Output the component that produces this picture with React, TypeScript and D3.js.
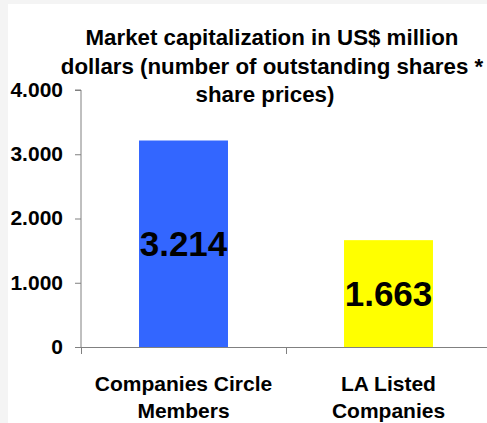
import React, { useEffect, useRef } from "react";
import * as d3 from "d3";

const titleLines = [
  "Market capitalization in US$ million",
  "dollars (number of outstanding shares *",
  "share prices)",
];
const categories = ["Companies Circle Members", "LA Listed Companies"];
const categoryLines = [
  ["Companies Circle", "Members"],
  ["LA Listed", "Companies"],
];
const values = [3214, 1663];
const yTicks = [0, 1000, 2000, 3000, 4000];

const barColors = ["#3366ff", "#ffff00"];
const width = 487;
const height = 423;
const margin = { top: 90, right: -4, bottom: 76, left: 81 };
const font = "'Liberation Sans', Arial, Helvetica, sans-serif";

const locale = d3.formatLocale({
  decimal: ",",
  thousands: ".",
  grouping: [3],
  currency: ["", ""],
});
const fmt = locale.format(",");

export default function App() {
  const svgRef = useRef<SVGSVGElement>(null);

  useEffect(() => {
    const svg = d3.select(svgRef.current);
    svg.selectAll("*").remove();

    // page background + chart area
    svg.append("rect").attr("width", width).attr("height", height).attr("fill", "#f4f4f4");
    svg
      .append("rect")
      .attr("x", 8)
      .attr("y", 4)
      .attr("width", width - 8)
      .attr("height", height - 4)
      .attr("fill", "#ffffff");

    const plotBottom = height - margin.bottom;
    const plotRight = width - margin.right;

    const x = d3
      .scaleBand()
      .domain(categories)
      .range([margin.left, plotRight])
      .paddingInner(0.566)
      .paddingOuter(0.283);

    const y = d3.scaleLinear().domain([0, 4000]).range([plotBottom, margin.top]);

    // bars
    svg
      .append("g")
      .selectAll("rect")
      .data(values)
      .join("rect")
      .attr("x", (d, i) => x(categories[i])!)
      .attr("y", (d) => y(d))
      .attr("width", x.bandwidth())
      .attr("height", (d) => plotBottom - y(d))
      .attr("fill", (d, i) => barColors[i]);

    // value labels
    svg
      .append("g")
      .selectAll("text")
      .data(values)
      .join("text")
      .attr("x", (d, i) => x(categories[i])! + x.bandwidth() / 2)
      .attr("y", (d) => (y(d) + plotBottom) / 2)
      .attr("dy", "0.36em")
      .attr("text-anchor", "middle")
      .attr("font-family", font)
      .attr("font-weight", "bold")
      .attr("font-size", 35)
      .attr("fill", "#000")
      .text((d) => fmt(d));

    // Y axis
    const yAxis = svg
      .append("g")
      .attr("transform", `translate(${margin.left},0)`)
      .call(d3.axisLeft(y).tickValues(yTicks).tickFormat((d) => fmt(d as number)).tickSize(6).tickPadding(12));
    yAxis.select(".domain").attr("stroke", "#808080").attr("d", `M-6,${y(4000)}H0V${plotBottom}`);
    yAxis.selectAll(".tick line").attr("stroke", "#808080");
    yAxis
      .selectAll(".tick text")
      .attr("dy", "0.3em")
      .attr("font-family", font)
      .attr("font-weight", "bold")
      .attr("font-size", 21)
      .attr("fill", "#000");

    // X axis: ticks at category boundaries
    const step = x.step();
    const boundaries = d3.range(categories.length + 1).map((i) => margin.left + i * step);
    const xAxis = svg.append("g");
    xAxis
      .append("line")
      .attr("x1", margin.left)
      .attr("x2", plotRight)
      .attr("y1", plotBottom + 0.5)
      .attr("y2", plotBottom + 0.5)
      .attr("stroke", "#808080");
    xAxis
      .selectAll("line.tick")
      .data(boundaries)
      .join("line")
      .attr("class", "tick")
      .attr("x1", (d) => d + 0.5)
      .attr("x2", (d) => d + 0.5)
      .attr("y1", plotBottom)
      .attr("y2", plotBottom + 7)
      .attr("stroke", "#808080");

    // category labels
    const cat = svg
      .append("g")
      .selectAll("text")
      .data(categoryLines)
      .join("text")
      .attr("text-anchor", "middle")
      .attr("font-family", font)
      .attr("font-weight", "bold")
      .attr("font-size", 21)
      .attr("fill", "#000");
    cat.each(function (lines, i) {
      const cx = x(categories[i])! + x.bandwidth() / 2;
      d3.select(this)
        .selectAll("tspan")
        .data(lines)
        .join("tspan")
        .attr("x", cx)
        .attr("y", (d, j) => 391 + j * 26.5)
        .text((d) => d);
    });

    // title
    svg
      .append("text")
      .attr("text-anchor", "middle")
      .attr("font-family", font)
      .attr("font-weight", "bold")
      .attr("font-size", 22.3)
      .attr("fill", "#000")
      .selectAll("tspan")
      .data(titleLines)
      .join("tspan")
      .attr("x", (d, i) => (i === 2 ? 265 : 272))
      .attr("y", (d, i) => 45 + i * 28.5)
      .text((d) => d);
  }, []);

  return (
    <svg
      ref={svgRef}
      width={width}
      height={height}
      style={{ position: "absolute", left: 0, top: 0 }}
    />
  );
}
